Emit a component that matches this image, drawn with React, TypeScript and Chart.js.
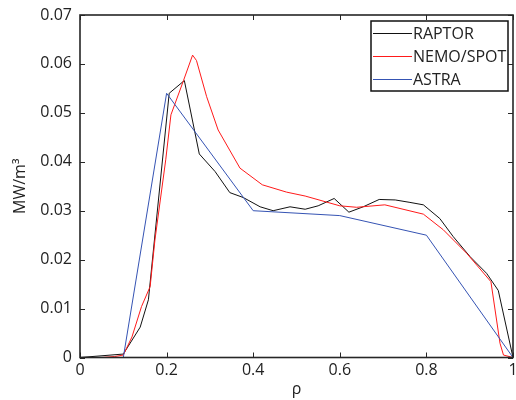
import { useEffect, useRef } from "react";
import { Chart, registerables } from "chart.js";

Chart.register(...registerables);

const FONT = "'Open Sans', 'DejaVu Sans', sans-serif";

const xTickValues = [0, 0.2, 0.4, 0.6, 0.8, 1];
const yTickValues = [0, 0.01, 0.02, 0.03, 0.04, 0.05, 0.06, 0.07];

const seriesLabels = ["RAPTOR", "NEMO/SPOT", "ASTRA"];
const seriesColors = ["#111111", "#ff1a1a", "#3553b3"];

const raptorX = [0, 0.1, 0.139, 0.158, 0.206, 0.241, 0.2755, 0.312, 0.346, 0.377, 0.416, 0.446, 0.485, 0.52, 0.55, 0.587, 0.621, 0.654, 0.691, 0.728, 0.762, 0.793, 0.831, 0.862, 0.901, 0.939, 0.966, 1.0];
const raptorY = [0, 0.0007, 0.0062, 0.0118, 0.054, 0.0566, 0.0416, 0.038, 0.0337, 0.0327, 0.0308, 0.03, 0.0308, 0.0303, 0.031, 0.0325, 0.0297, 0.0308, 0.0323, 0.0322, 0.0317, 0.0312, 0.0284, 0.0247, 0.0206, 0.0172, 0.0137, 0];

const nemoX = [0.05, 0.08, 0.1, 0.12, 0.142, 0.162, 0.173, 0.198, 0.21, 0.239, 0.26, 0.269, 0.2925, 0.319, 0.3695, 0.421, 0.477, 0.52, 0.6, 0.639, 0.704, 0.793, 0.839, 0.893, 0.949, 0.97, 0.978, 1.0];
const nemoY = [0, 0.0002, 0.0005, 0.0042, 0.0104, 0.0145, 0.024, 0.0404, 0.0496, 0.0566, 0.0618, 0.0607, 0.0533, 0.0465, 0.0387, 0.0353, 0.0338, 0.033, 0.031, 0.0307, 0.0312, 0.0293, 0.0261, 0.0213, 0.0155, 0.0029, 0.0005, 0];

const astraX = [0, 0.1, 0.2, 0.4, 0.6, 0.8, 1.0];
const astraY = [0, 0, 0.054, 0.03, 0.029, 0.025, 0];

const toPoints = (xs: number[], ys: number[]) => xs.map((x, i) => ({ x, y: ys[i] }));

const fmt = (v: number) => String(Math.round(v * 100) / 100);

const frameLegendPlugin = {
  id: "frameLegend",
  afterDatasetsDraw(chart: any) {
    const { ctx, chartArea, scales } = chart;
    const { left, right, top, bottom } = chartArea;
    const xs = scales.x;
    const ys = scales.y;
    ctx.save();
    ctx.strokeStyle = "#262626";
    ctx.lineWidth = 1.6;
    ctx.strokeRect(left, top, right - left, bottom - top);
    ctx.lineWidth = 1;
    ctx.beginPath();
    const tl = 5;
    xTickValues.forEach((v) => {
      const px = Math.round(xs.getPixelForValue(v)) + 0.5;
      ctx.moveTo(px, bottom);
      ctx.lineTo(px, bottom - tl);
      ctx.moveTo(px, top);
      ctx.lineTo(px, top + tl);
    });
    yTickValues.forEach((v) => {
      const py = Math.round(ys.getPixelForValue(v)) + 0.5;
      ctx.moveTo(left, py);
      ctx.lineTo(left + tl, py);
      ctx.moveTo(right, py);
      ctx.lineTo(right - tl, py);
    });
    ctx.stroke();

    // legend box inside plot, top-right
    const bx = 371;
    const by = 21;
    const bw = 137;
    const bh = 70;
    ctx.fillStyle = "#ffffff";
    ctx.fillRect(bx, by, bw, bh);
    ctx.strokeStyle = "#111111";
    ctx.lineWidth = 1.5;
    ctx.strokeRect(bx, by, bw, bh);
    ctx.font = `16px ${FONT}`;
    ctx.textBaseline = "middle";
    ctx.textAlign = "left";
    chart.data.datasets.forEach((ds: any, i: number) => {
      const yy = by + 12.5 + i * 23;
      ctx.strokeStyle = ds.borderColor;
      ctx.lineWidth = 1;
      ctx.beginPath();
      ctx.moveTo(bx + 2, yy);
      ctx.lineTo(bx + 41, yy);
      ctx.stroke();
      ctx.fillStyle = "#222222";
      ctx.fillText(ds.label, bx + 42, yy + 1);
    });
    ctx.restore();
  },
};

export default function App() {
  const canvasRef = useRef<HTMLCanvasElement | null>(null);

  useEffect(() => {
    document.body.style.margin = "0";
    const canvas = canvasRef.current;
    if (!canvas) return;
    const chart = new Chart(canvas, {
      type: "line",
      data: {
        datasets: [
          {
            label: seriesLabels[0],
            data: toPoints(raptorX, raptorY),
            borderColor: seriesColors[0],
            borderWidth: 1,
            pointRadius: 0,
            tension: 0,
            order: 2,
          },
          {
            label: seriesLabels[1],
            data: toPoints(nemoX, nemoY),
            borderColor: seriesColors[1],
            borderWidth: 1,
            pointRadius: 0,
            tension: 0,
            order: 1,
          },
          {
            label: seriesLabels[2],
            data: toPoints(astraX, astraY),
            borderColor: seriesColors[2],
            borderWidth: 1,
            pointRadius: 0,
            tension: 0,
            order: 0,
          },
        ],
      },
      options: {
        animation: false,
        responsive: false,
        devicePixelRatio: 1,
        layout: { padding: { left: 0, right: 3, top: 15, bottom: 0 } },
        plugins: {
          legend: { display: false },
          tooltip: { enabled: false },
        },
        scales: {
          x: {
            type: "linear",
            min: 0,
            max: 1,
            grid: { display: false, drawTicks: false },
            border: { display: false },
            ticks: {
              stepSize: 0.2,
              padding: 3,
              color: "#222222",
              font: { family: FONT, size: 16 },
              callback: (v: any) => fmt(Number(v)),
              maxRotation: 0,
              autoSkip: false,
            },
            title: {
              display: true,
              text: "ρ",
              color: "#222222",
              font: { family: FONT, size: 16 },
              padding: { top: 0, bottom: 1 },
            },
            afterFit: (scale: any) => {
              scale.height = 42.5;
              scale.paddingLeft = 0;
              scale.paddingRight = 0;
            },
          },
          y: {
            type: "linear",
            min: 0,
            max: 0.07,
            grid: { display: false, drawTicks: false },
            border: { display: false },
            ticks: {
              stepSize: 0.01,
              padding: 8,
              color: "#222222",
              font: { family: FONT, size: 16 },
              callback: (v: any) => fmt(Number(v)),
              autoSkip: false,
            },
            title: {
              display: true,
              text: "MW/m³",
              color: "#222222",
              font: { family: FONT, size: 16 },
              padding: { top: 11, bottom: 0 },
            },
            afterFit: (scale: any) => {
              scale.width = 80;
              scale.paddingTop = 0;
              scale.paddingBottom = 0;
            },
          },
        },
      },
      plugins: [frameLegendPlugin],
    });
    return () => chart.destroy();
  }, []);

  return (
    <div style={{ width: 516, height: 400 }}>
      <canvas ref={canvasRef} width={516} height={400} style={{ display: "block" }} />
    </div>
  );
}
